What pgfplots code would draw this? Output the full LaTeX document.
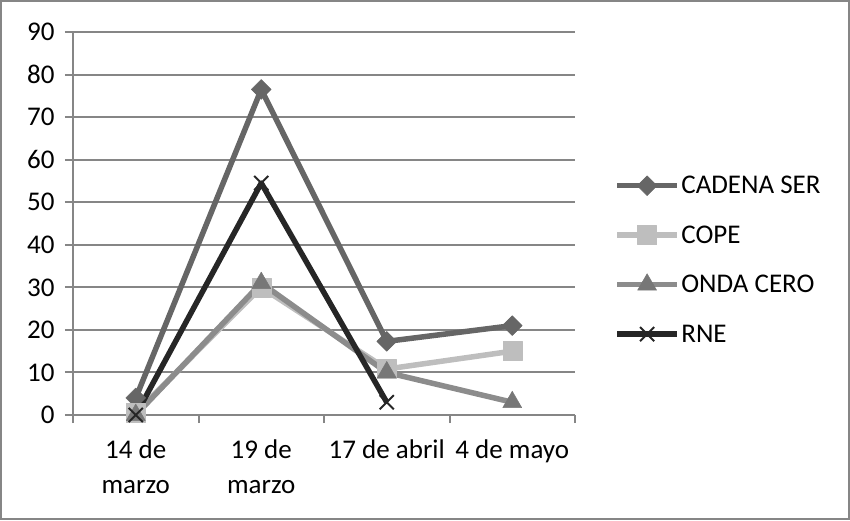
\documentclass[border=0pt]{standalone}
\usepackage{fontspec}
\setmainfont{Carlito}
\usepackage{pgfplots}
\pgfplotsset{compat=1.18}
\definecolor{gridc}{RGB}{134,134,134}
\definecolor{serc}{RGB}{102,102,102}
\definecolor{copec}{RGB}{190,190,190}
\definecolor{ondac}{RGB}{140,140,140}
\definecolor{rnec}{RGB}{38,38,38}

\begin{document}
\begin{tikzpicture}[x=1pt,y=1pt]
\useasboundingbox (0,0) rectangle (850,520);
\draw[gridc, line width=2pt] (1,1) rectangle (849,519);
\begin{axis}[at={(73pt,105pt)}, anchor=south west, scale only axis,
  width=502pt, height=383pt,
  xmin=-0.5, xmax=3.5, ymin=0, ymax=90,
  ytick={0,10,...,90}, xtick={0,1,2,3},
  xticklabels={{14 de\\marzo},{19 de\\marzo},{17 de abril},{4 de mayo}},
  minor xtick={-0.5,0.5,1.5,2.5,3.5},
  axis x line*=bottom, axis y line*=left,
  axis line style={gridc, line width=2pt, -},
  ymajorgrids, grid style={gridc, line width=2pt},
  tick align=outside, major tick length=8pt, minor tick length=8pt,
  tick style={gridc, line width=2pt},
  x tick style={draw=none}, minor x tick style={draw=gridc, line width=2pt},
  tick label style={font=\fontsize{27}{35}\selectfont, text=black},
  xticklabel style={align=center, yshift=-13pt},
  yticklabel style={xshift=-7pt},
  /pgf/number format/assume math mode=true,
  legend style={draw=none, fill=none, at={(1.078,0.405)}, anchor=west,
    font=\fontsize{27}{32}\selectfont, row sep=26.5pt, inner sep=0pt,
    nodes={inner xsep=1.5pt}},
  legend cell align=left,
  legend image code/.code={\draw[mark repeat=2,mark phase=2] plot coordinates {(0pt,0pt) (30pt,0pt) (60pt,0pt)};},
  every axis plot/.append style={line width=5.5pt, line join=round},
  clip=false]
\addplot[serc, mark=square*, mark size=7pt, mark options={rotate=45, line width=0.5pt}] coordinates {(0,4) (1,76.5) (2,17.3) (3,21)};
\addlegendentry{CADENA SER}
\addplot[copec, mark=square*, mark size=9.5pt, mark options={line width=0.5pt}] coordinates {(0,0.5) (1,30) (2,10.8) (3,15)};
\addlegendentry{COPE}
\addplot[ondac, mark=triangle*, mark size=11pt, mark options={fill=ondac!85!black, draw=ondac!85!black, line width=0.5pt}] coordinates {(0,0) (1,31) (2,10) (3,3)};
\addlegendentry{ONDA CERO}
\addplot[rnec, mark=x, mark size=10pt, mark options={line width=2pt}] coordinates {(0,0) (1,54.5) (2,3)};
\addlegendentry{RNE}
\end{axis}
\end{tikzpicture}
\end{document}
